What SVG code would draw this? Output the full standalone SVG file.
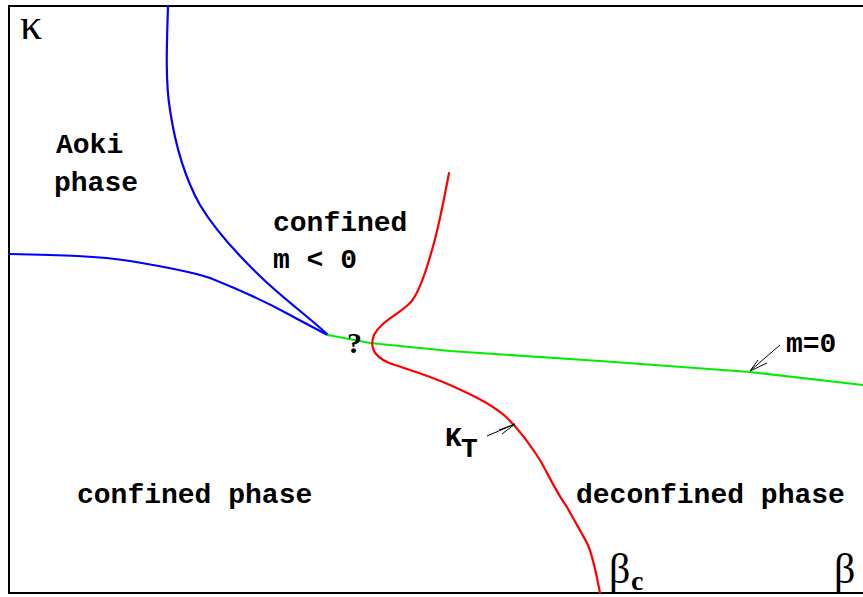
<svg xmlns="http://www.w3.org/2000/svg" width="863" height="597" viewBox="0 0 863 597">
<style>
.mono{font-family:"Liberation Mono","Courier New",monospace;font-weight:bold;font-size:28px;fill:#000}
.serif{font-family:"Liberation Serif","Times New Roman",serif;fill:#000}
.curve{fill:none;stroke-width:2.2;stroke-linejoin:round;stroke-linecap:round}
.thin{fill:none;stroke:#000;stroke-width:1}
</style>
<rect width="863" height="597" fill="#fff"/>
<g id="frame" fill="none" stroke="#000" stroke-width="2">
<path d="M863,6 H9 V593 H863"/>
</g>
<g id="connectors">
<path id="blue-upper" class="curve" stroke="#0000ff" d="M168,6 C167,40 165,80 170,110 C176,150 186,180 200,205 C215,230 240,257 262,278 C285,300 310,318 328,335"/>
<path id="blue-lower" class="curve" stroke="#0000ff" d="M9,254 C60,255 100,256 130,261 C160,266 190,271 210,278 C240,290 270,304 290,315 C305,323 318,330 328,335"/>
<path id="green" class="curve" stroke="#00ee00" d="M328,335 L370,343 L450,351 L600,361 L750,372 L863,385"/>
<path id="red" class="curve" stroke="#ff0000" d="M449,173 C443,205 438,230 432,250 C425,275 418,295 410,303 C398,315 380,322 374,335 C368,350 378,360 395,365 C410,370 430,376 450,385 C470,394 490,403 505,416 C520,430 530,445 540,460 C550,478 558,495 567,507 C575,522 583,535 588,545 C594,560 597,578 600,593"/>
<g id="arrow-kt">
<path class="thin" d="M487,436 L515,424 M515,424 L499,430 M515,424 L502,434"/>
</g>
<g id="arrow-m0">
<path class="thin" d="M780,345 L750,371 M750,371 L758,360 M750,371 L767,363"/>
</g>
</g>
<g id="label-kappa"><text class="serif" x="20" y="39" font-size="44">κ</text></g>
<g id="label-aoki">
<text class="mono" x="56" y="153">Aoki</text>
<text class="mono" x="54" y="191">phase</text>
</g>
<g id="label-confined-mneg">
<text class="mono" x="273" y="231">confined</text>
<text class="mono" x="273" y="268">m &lt; 0</text>
</g>
<g id="label-q"><text class="serif" x="347" y="353" font-size="30" font-weight="bold">?</text></g>
<g id="label-kt">
<text class="mono" x="445" y="446" font-size="22">K</text>
<text class="mono" x="461" y="457" font-size="18">T</text>
</g>
<g id="label-m0"><text class="mono" x="786" y="352" font-size="24">m=0</text></g>
<g id="label-confined-phase"><text class="mono" x="77" y="503">confined phase</text></g>
<g id="label-deconfined-phase"><text class="mono" x="576" y="503">deconfined phase</text></g>
<g id="label-betac">
<text class="serif" x="609" y="583" font-size="42">β</text>
<text class="serif" x="631" y="590" font-size="28" font-weight="bold">c</text>
</g>
<g id="label-beta"><text class="serif" x="834" y="583" font-size="42">β</text></g>
</svg>
